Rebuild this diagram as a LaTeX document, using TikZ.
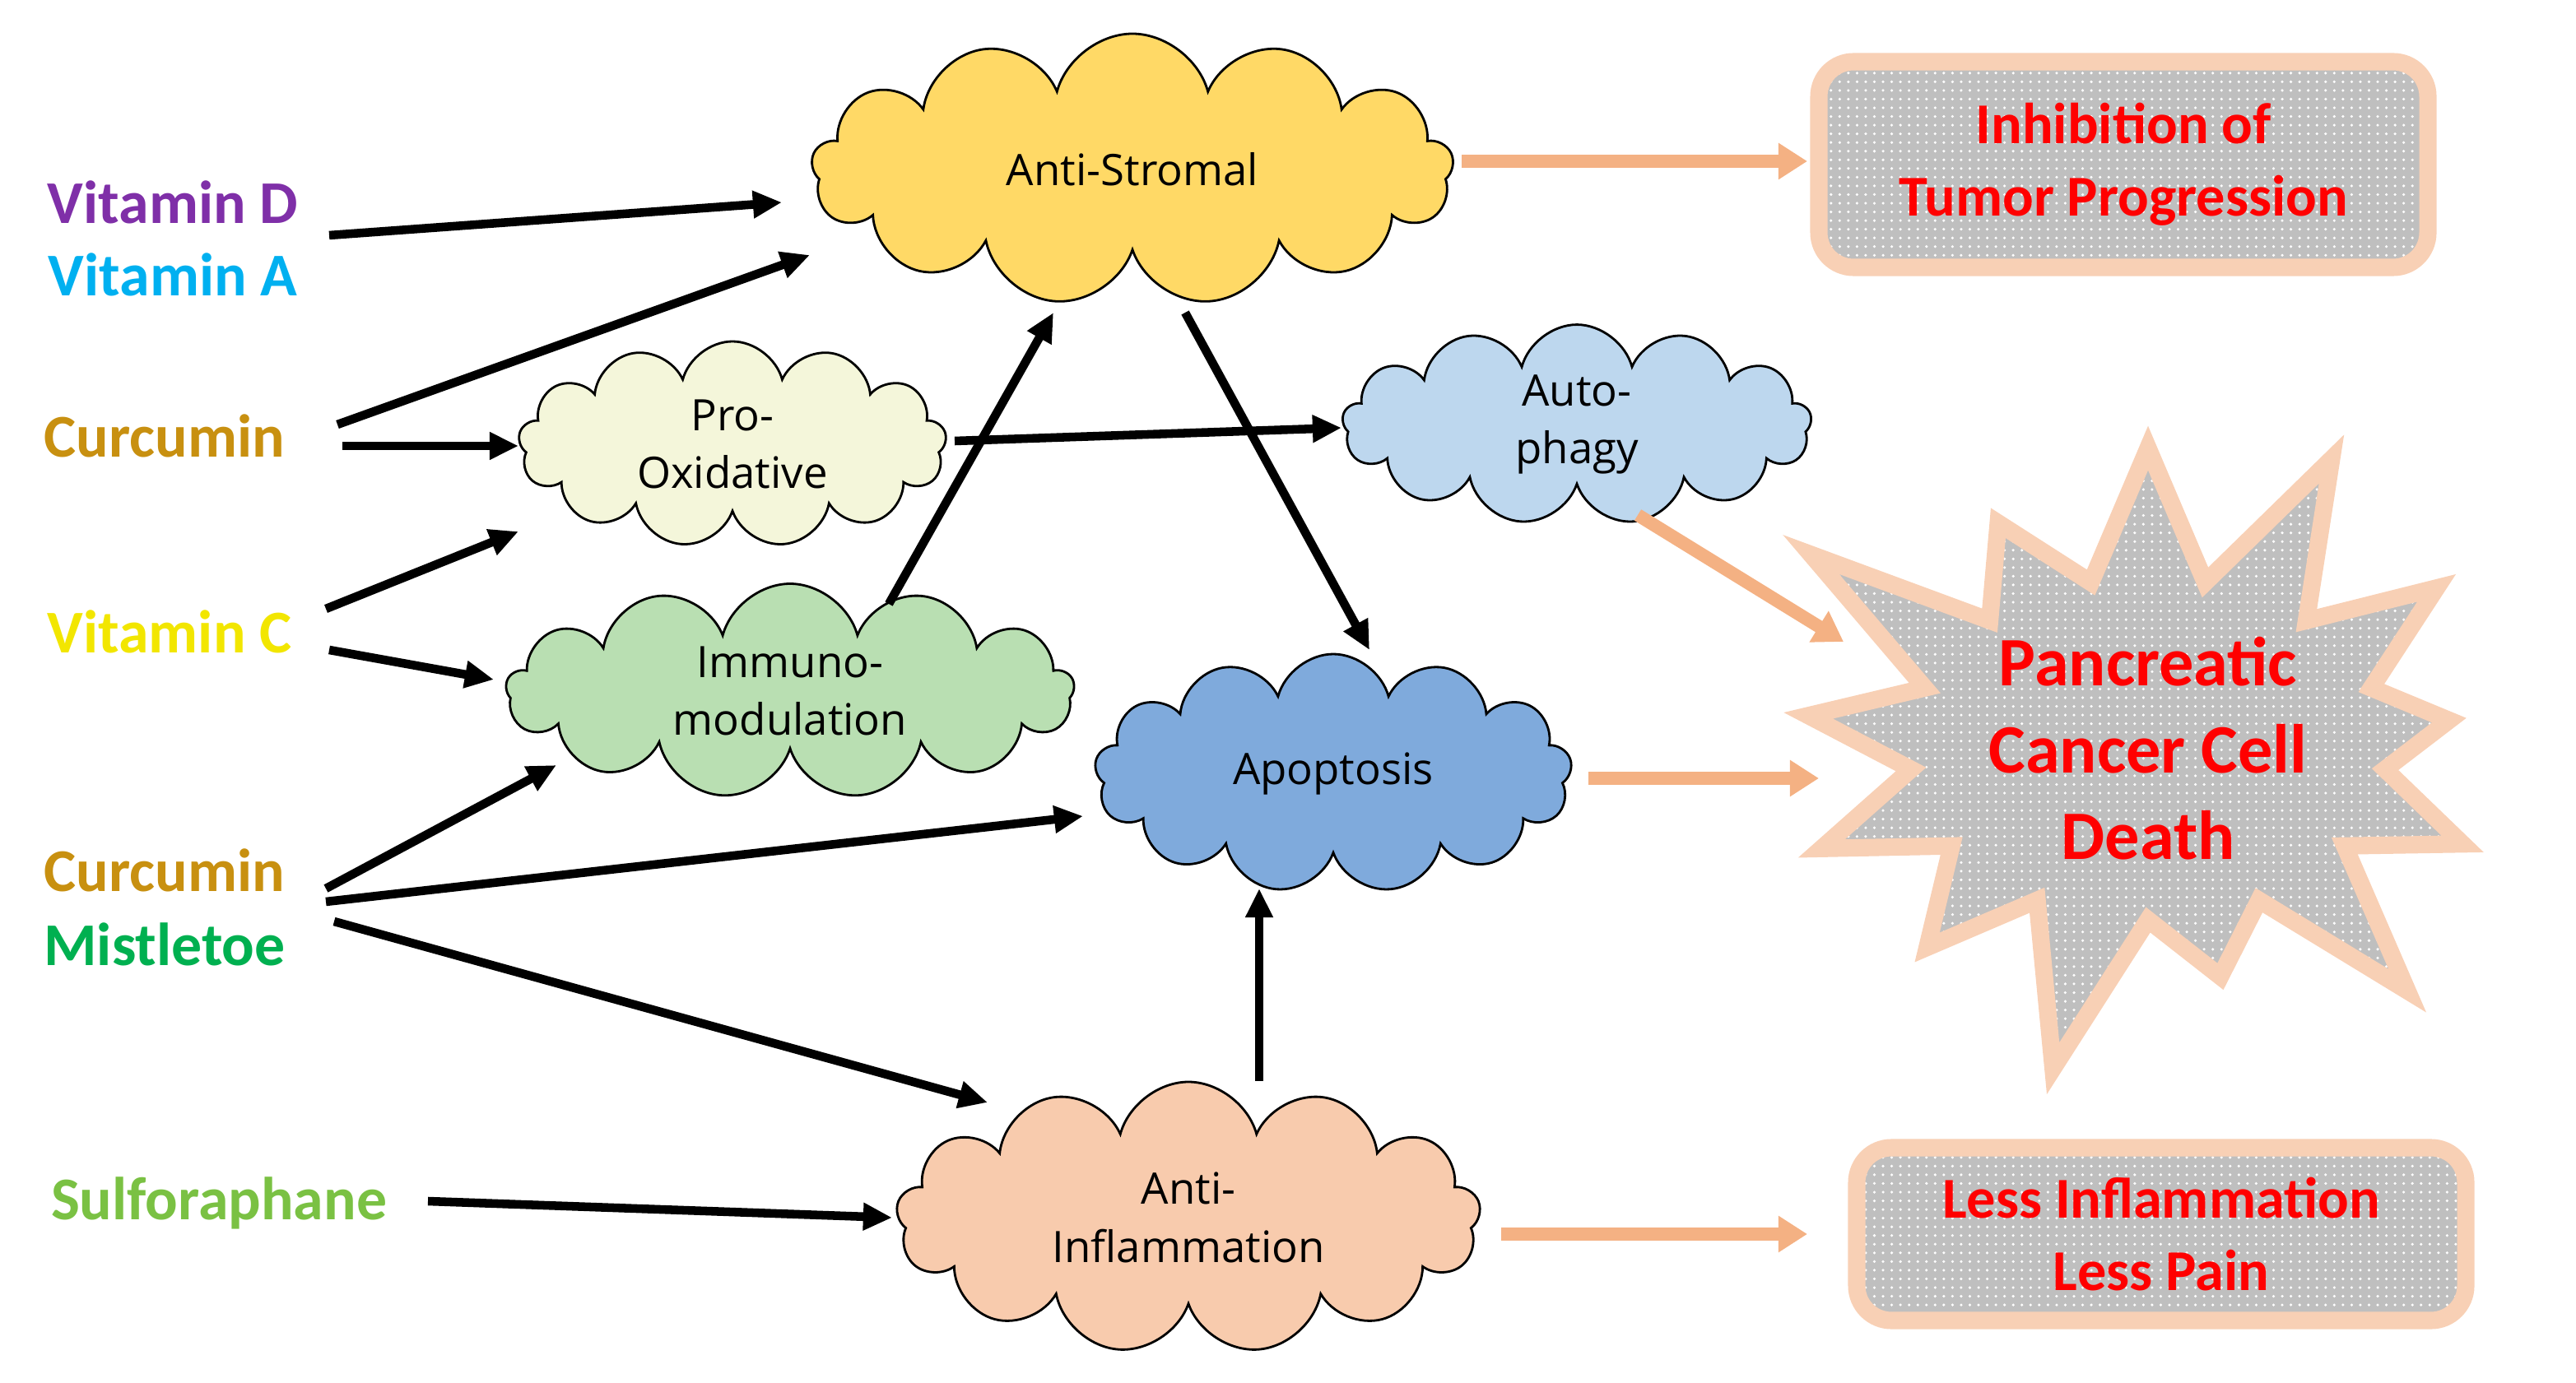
\documentclass[tikz,border=0pt]{standalone}
\usepackage{fontspec}
\setmainfont{Open Sans}
\newfontfamily\lbl{Carlito}
\usetikzlibrary{shapes.symbols,patterns,arrows.meta}
\definecolor{cStroma}{HTML}{FFD966}
\definecolor{cProx}{HTML}{F4F6DA}
\definecolor{cAuto}{HTML}{BDD7EE}
\definecolor{cImmu}{HTML}{B9DFB2}
\definecolor{cApop}{HTML}{7FAADC}
\definecolor{cInfl}{HTML}{F8CBAD}
\definecolor{cGlow}{HTML}{F4B183}
\definecolor{cVitD}{HTML}{7F2FA8}
\definecolor{cVitA}{HTML}{00B0F0}
\definecolor{cCurc}{HTML}{C89010}
\definecolor{cVitC}{HTML}{F2E600}
\definecolor{cMist}{HTML}{00B050}
\definecolor{cSulf}{HTML}{7AC143}
\tikzset{
  agent/.style={font=\lbl\bfseries\fontsize{21}{25}\selectfont},
  blob/.style={cloud, cloud puffs=13, cloud ignores aspect, draw=black, thick, align=center, font=\fontsize{15}{20}\selectfont},
  result/.style={preaction={fill=gray!50}, pattern=dots, pattern color=white, draw=cGlow!60, line width=6pt, align=center, text=red, font=\lbl\bfseries\fontsize{20}{25}\selectfont},
  arr/.style={-{Triangle[length=10pt,width=9pt]}, line width=3pt},
  glow/.style={-{Triangle[length=10pt,width=12pt]}, line width=4.5pt, draw=cGlow}
}
\begin{document}
\begin{tikzpicture}
\useasboundingbox (0,0) rectangle (31.3,-16.81);

% Agents
\node[agent, text=cVitD] (vitD) at (2.1,-2.46) {Vitamin D};
\node[agent, text=cVitA] (vitA) at (2.1,-3.34) {Vitamin A};
\node[agent, text=cCurc] (curc1) at (2.0,-5.3) {Curcumin};
\node[agent, text=cVitC] (vitC) at (2.06,-7.68) {Vitamin C};
\node[agent, text=cCurc] (curc2) at (2.0,-10.58) {Curcumin};
\node[agent, text=cMist] (mist) at (2.0,-11.48) {Mistletoe};
\node[agent, text=cSulf] (sulf) at (2.66,-14.62) {Sulforaphane};

% Mechanisms
\node[blob, fill=cStroma, minimum width=7.8cm, minimum height=3.3cm] (stroma) at (13.76,-2.06) {Anti-Stromal};
\node[blob, fill=cProx, minimum width=5.2cm, minimum height=2.5cm] (prox) at (8.9,-5.4) {Pro-\\Oxidative};
\node[blob, fill=cAuto, minimum width=5.7cm, minimum height=2.3cm] (auto) at (19.16,-5.16) {Auto-\\phagy};
\node[blob, fill=cImmu, minimum width=6.9cm, minimum height=2.4cm] (immu) at (9.6,-8.4) {Immuno-\\modulation};
\node[blob, fill=cApop, minimum width=5.8cm, minimum height=2.9cm] (apop) at (16.2,-9.4) {Apoptosis};
\node[blob, fill=cInfl, minimum width=7.1cm, minimum height=3.3cm] (infl) at (14.44,-14.8) {Anti-\\Inflammation};

% Outcomes
\node[result, rounded corners=12pt, minimum width=7.4cm, minimum height=2.5cm] (inhib) at (25.8,-2.0) {Inhibition of\\Tumor Progression};
\node[result, starburst, starburst points=13, starburst point height=2.2cm, minimum width=9cm, minimum height=7.6cm, font=\lbl\bfseries\fontsize{24}{30}\selectfont] (death) at (26.1,-9.1) {Pancreatic\\Cancer Cell\\Death};
\node[result, rounded corners=12pt, minimum width=7.4cm, minimum height=2.1cm] (less) at (26.26,-15.0) {Less Inflammation\\Less Pain};

% Connector ends
\coordinate (a1) at (4.0,-2.86);   \coordinate (b1) at (9.5,-2.46);
\coordinate (a2) at (4.1,-5.16);   \coordinate (b2) at (9.84,-3.1);
\coordinate (a3) at (4.16,-5.42);  \coordinate (b3) at (6.3,-5.42);
\coordinate (a4) at (3.96,-7.4);   \coordinate (b4) at (6.3,-6.46);
\coordinate (a5) at (4.0,-7.9);    \coordinate (b5) at (6.0,-8.26);
\coordinate (a6) at (3.96,-10.8);  \coordinate (b6) at (6.76,-9.3);
\coordinate (a7) at (3.96,-10.96); \coordinate (b7) at (13.16,-9.92);
\coordinate (a8) at (4.06,-11.2);  \coordinate (b8) at (12.0,-13.4);
\coordinate (a9) at (5.2,-14.6);   \coordinate (b9) at (10.84,-14.8);

% Agent connections
\draw[arr] (a1) -- (b1);
\draw[arr] (a2) -- (b2);
\draw[arr] (a3) -- (b3);
\draw[arr] (a4) -- (b4);
\draw[arr] (a5) -- (b5);
\draw[arr] (a6) -- (b6);
\draw[arr] (a7) -- (b7);
\draw[arr] (a8) -- (b8);
\draw[arr] (a9) -- (b9);

% Mechanism connections
\draw[arr] (11.6,-5.36) -- (16.3,-5.2);
\draw[arr] (10.8,-7.34) -- (12.8,-3.8);
\draw[arr] (14.4,-3.8) -- (16.64,-7.9);
\draw[arr] (infl.north -| 15.3,0) -- (15.3,-10.8);

% Outcome connections
\draw[glow] (17.76,-1.96) -- (21.96,-1.96);
\draw[glow] (19.9,-6.26) -- (22.4,-7.8);
\draw[glow] (19.3,-9.46) -- (22.1,-9.46);
\draw[glow] (18.24,-15.0) -- (21.96,-15.0);

\end{tikzpicture}
\end{document}
